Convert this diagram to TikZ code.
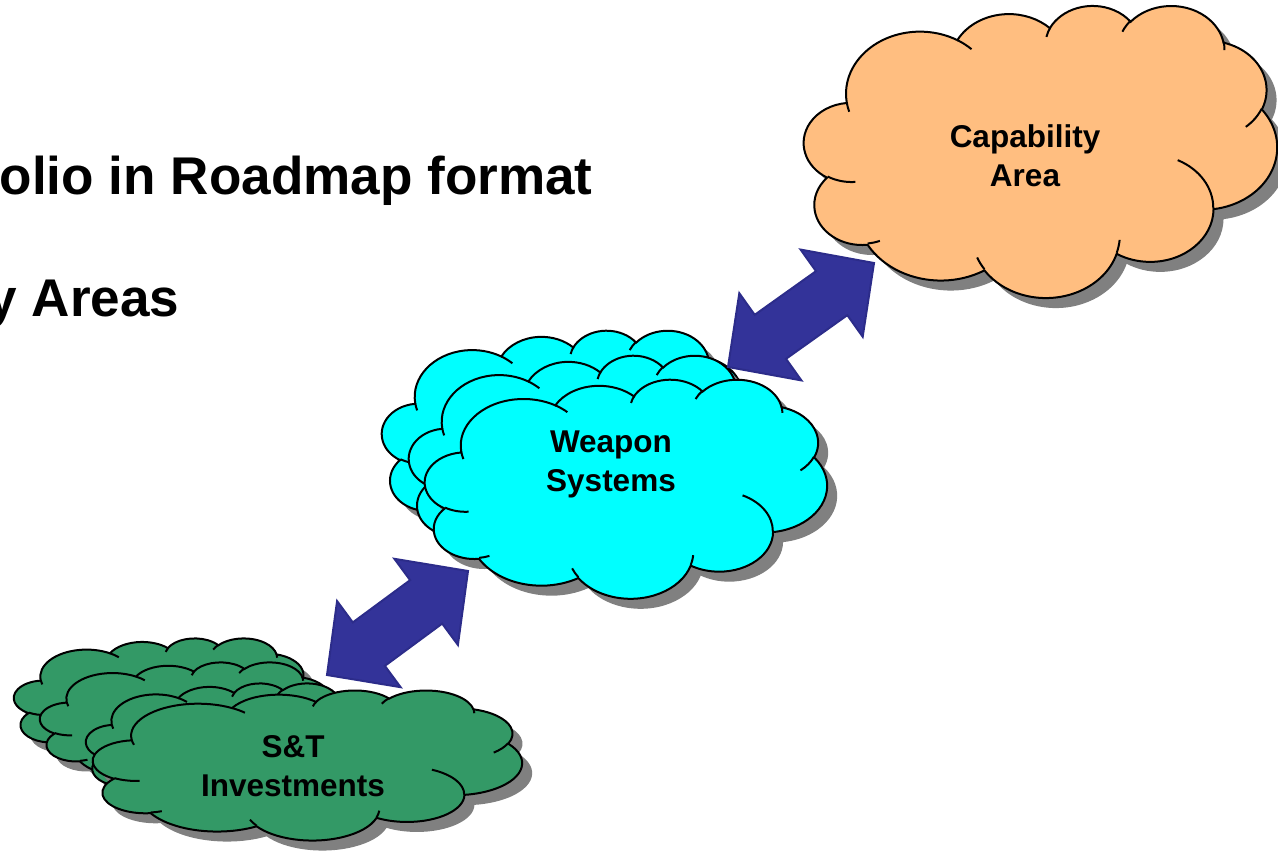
\documentclass[tikz,border=0pt]{standalone}
\usepackage{fontspec}
\setmainfont{Liberation Sans}
\usetikzlibrary{calc}
\definecolor{lightorange}{RGB}{255,190,128}
\definecolor{lightcyan}{RGB}{0,255,255}
\definecolor{seagreen}{RGB}{51,153,102}
\definecolor{arrowblue}{RGB}{51,51,153}
\definecolor{arrowedge}{RGB}{44,44,138}
\definecolor{shadowgray}{RGB}{128,128,128}
\tikzset{
  cloudline/.style={draw=black, line width=1pt},
  cloudlabel/.style={font=\fontsize{15.75}{19.5}\selectfont\bfseries, align=center, inner sep=0pt},
  headline/.style={font=\fontsize{26.55}{32}\selectfont\bfseries, inner sep=0pt, anchor=base east},
  linkarrow/.style={fill=arrowblue, draw=arrowedge, line width=1pt, line join=miter}
}
%% one puff of the cloud: x radius, y radius, start angle, sweep (angles as seen on the ellipse)
\newcommand{\carc}[4]{\pgfextra{%
    \pgfmathsetmacro\cloudta{atan2((#1)*sin(#3),(#2)*cos(#3))}%
    \pgfmathsetmacro\cloudta{\cloudta+360*round(((#3)-(\cloudta))/360)}%
    \pgfmathsetmacro\cloudtb{atan2((#1)*sin((#3)+(#4)),(#2)*cos((#3)+(#4)))}%
    \pgfmathsetmacro\cloudtb{\cloudtb+360*round(((#3)+(#4)-(\cloudtb))/360)}}%
  arc[x radius=#1, y radius=#2, start angle=\cloudta, end angle=\cloudtb]}
\newcommand{\cloudoutline}{(39.00,143.70)
  \carc{67.53}{91.90}{-190.4875}{123.7805}
  \carc{53.33}{72.67}{-144.1024}{89.9452}
  \carc{43.65}{59.45}{-145.8079}{99.7230}
  \carc{48.57}{65.95}{-130.9861}{117.2417}
  \carc{53.33}{72.73}{-78.7089}{109.0269}
  \carc{67.75}{92.20}{-46.2673}{130.2690}
  \carc{57.85}{78.67}{0.6250}{114.0333}
  \carc{67.52}{92.15}{22.4516}{115.1726}
  \carc{77.20}{105.43}{66.2426}{75.7110}
  \carc{43.60}{59.18}{-274.9421}{146.7356}
  \carc{43.45}{59.45}{-246.8285}{152.5189}
  -- cycle}
\newcommand{\cloudinner}{
  (46.93,261.77) \carc{43.45}{59.45}{86.7420}{26.4295}
  (69.28,348.99) \carc{43.60}{59.18}{73.6105}{11.4475}
  (164.78,390.90) \carc{67.52}{92.15}{137.6242}{14.0811}
  (288.27,347.51) \carc{67.52}{92.15}{6.4533}{15.9984}
  (341.29,229.54) \carc{57.85}{78.67}{-70.2924}{70.9174}
  (417.98,153.54) \carc{53.33}{72.73}{30.3180}{27.7515}
  (383.24,54.26) \carc{48.57}{65.95}{-13.7443}{14.8589}
  (290.78,39.52) \carc{48.57}{65.95}{-149.1815}{18.1954}
  (221.41,47.20) \carc{43.65}{59.45}{-163.4943}{17.6864}
  (140.00,51.92) \carc{67.53}{91.90}{-66.7070}{12.3194}
  (41.27,157.89) \carc{67.53}{91.90}{157.6544}{11.8582}}
%% #1 top left corner, #2 width, #3 height, #4 fill
\newcommand{\drawcloud}[4]{
  \begin{scope}[shift={#1}]
  \begin{scope}[shift={(10,10)}, xscale=#2/432, yscale=#3/432]
  \fill[shadowgray] \cloudoutline;
  \end{scope}
  \begin{scope}[xscale=#2/432, yscale=#3/432]
  \filldraw[cloudline, fill=#4] \cloudoutline;
  \draw[cloudline] \cloudinner;
  \end{scope}
  \end{scope}
}
%% block arrow with a head at both ends
\newcommand{\linkarrow}[2]{
  \filldraw[linkarrow] (#1)
    -- ($(#1)!26pt!(#2)!26.75pt!90:(#2)$)
    -- ($(#1)!26pt!(#2)!13.5pt!90:(#2)$)
    -- ($(#2)!26pt!(#1)!13.5pt!-90:(#1)$)
    -- ($(#2)!26pt!(#1)!26.75pt!-90:(#1)$)
    -- (#2)
    -- ($(#2)!26pt!(#1)!26.75pt!90:(#1)$)
    -- ($(#2)!26pt!(#1)!13.5pt!90:(#1)$)
    -- ($(#1)!26pt!(#2)!13.5pt!-90:(#2)$)
    -- ($(#1)!26pt!(#2)!26.75pt!-90:(#2)$)
    -- cycle;
}
\begin{document}
\begin{tikzpicture}[x=0.5pt, y=-0.5pt]
  \path[use as bounding box] (0,0) rectangle (1278,855);

  \node[headline] (roadmap) at (593,195) {olio in Roadmap format};
  \node[headline] (areas) at (180,317) {y Areas};

  \drawcloud{(804,5)}{473}{292}{lightorange}
  \node[cloudlabel] (capability) at (1025,156) {Capability\\Area};

  \drawcloud{(382,330)}{368}{220}{lightcyan}
  \drawcloud{(409,355)}{368}{220}{lightcyan}
  \drawcloud{(425,379)}{402}{219}{lightcyan}
  \node[cloudlabel] (weapon) at (611,464) {Weapon\\Systems};

  \drawcloud{(14,638)}{296}{127}{seagreen}
  \drawcloud{(40,662)}{296}{121}{seagreen}
  \drawcloud{(86,683)}{285}{125}{seagreen}
  \drawcloud{(93,690)}{429}{150}{seagreen}
  \node[cloudlabel] (invest) at (293,766) {S\&T\\Investments};

  \coordinate (weapontip) at (728,367);
  \coordinate (capatip) at (874,263);
  \coordinate (investtip) at (327,675);
  \coordinate (weaponlow) at (468,571);
  \linkarrow{weapontip}{capatip}
  \linkarrow{investtip}{weaponlow}
\end{tikzpicture}
\end{document}
